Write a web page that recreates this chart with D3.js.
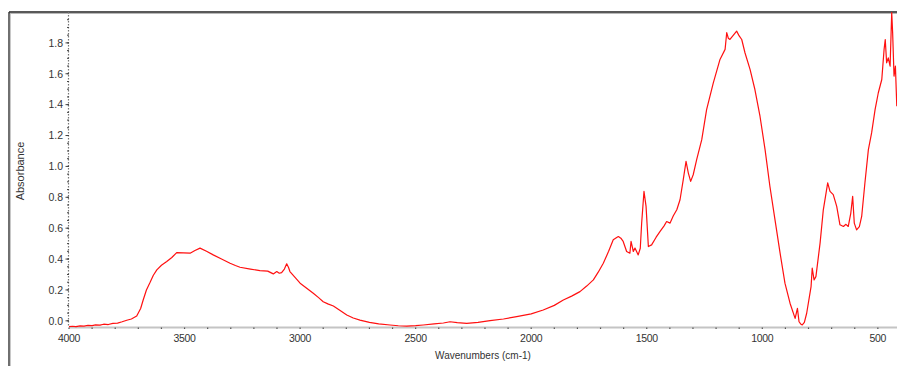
<!DOCTYPE html>
<html>
<head>
<meta charset="utf-8">
<script src="https://cdn.jsdelivr.net/npm/d3@7"></script>
<style>
  html, body { margin: 0; padding: 0; background: #fff; }
  svg { display: block; font-family: "Liberation Sans", Arial, sans-serif; }
</style>
</head>
<body>
<svg id="chart" width="897" height="366"></svg>
<script>
// IR absorbance spectrum: wavenumber (cm-1) and absorbance samples
const wavenumbers = [
  4000, 3985, 3970, 3952, 3935, 3918, 3900, 3885, 3866, 3850, 3830, 3810, 3790, 3770, 3750,
  3730, 3707, 3690, 3679, 3665, 3650, 3635, 3620, 3600, 3577, 3555, 3534, 3505, 3476, 3455,
  3433, 3405, 3376, 3340, 3303, 3280, 3260, 3215, 3174, 3140, 3116, 3101, 3090, 3080, 3068,
  3058, 3050, 3044, 3020, 3000, 2970, 2943, 2920, 2900, 2880, 2856, 2830, 2798, 2770, 2741,
  2700, 2660, 2611, 2575, 2539, 2500, 2467, 2420, 2380, 2351, 2320, 2279, 2230, 2178, 2120,
  2063, 2000, 1948, 1900, 1861, 1825, 1789, 1760, 1731, 1710, 1688, 1665, 1645, 1630, 1623,
  1612, 1602, 1587, 1573, 1568, 1558, 1551, 1537, 1528, 1522, 1512, 1503, 1493, 1479, 1460,
  1443, 1425, 1414, 1399, 1385, 1370, 1356, 1342, 1330, 1320, 1310, 1299, 1284, 1262, 1241,
  1212, 1183, 1161, 1154, 1147, 1140, 1125, 1111, 1100, 1089, 1075, 1053, 1032, 1010, 988,
  967, 945, 923, 902, 880, 858, 848, 841, 834, 827, 818, 808, 789, 784, 776,
  768, 750, 736, 724, 717, 707, 693, 678, 664, 649, 638, 628, 617, 609, 602,
  592, 580, 570, 556, 541, 527, 512, 498, 483, 473, 468, 462, 455, 447, 440,
  436, 430, 424, 418
];
const absorbance = [
  -0.037, -0.035, -0.037, -0.033, -0.034, -0.030, -0.031, -0.026, -0.028, -0.022, -0.024, -0.017, -0.015, -0.006, 0.004,
  0.012, 0.031, 0.080, 0.135, 0.200, 0.246, 0.295, 0.330, 0.360, 0.384, 0.410, 0.442, 0.440, 0.438, 0.455,
  0.471, 0.450, 0.427, 0.400, 0.373, 0.358, 0.347, 0.335, 0.325, 0.322, 0.304, 0.319, 0.308, 0.312, 0.335,
  0.369, 0.345, 0.319, 0.278, 0.244, 0.210, 0.179, 0.150, 0.124, 0.110, 0.096, 0.070, 0.038, 0.018, 0.005,
  -0.010, -0.020, -0.027, -0.032, -0.034, -0.031, -0.027, -0.020, -0.014, -0.006, -0.012, -0.016, -0.010, 0.001, 0.012,
  0.027, 0.045, 0.070, 0.100, 0.135, 0.160, 0.189, 0.225, 0.265, 0.315, 0.373, 0.450, 0.525, 0.540, 0.546,
  0.535, 0.514, 0.449, 0.438, 0.514, 0.449, 0.471, 0.427, 0.470, 0.633, 0.838, 0.741, 0.481, 0.492, 0.540,
  0.578, 0.615, 0.643, 0.633, 0.680, 0.719, 0.784, 0.914, 1.033, 0.957, 0.903, 0.946, 1.044, 1.173, 1.368,
  1.541, 1.693, 1.758, 1.866, 1.830, 1.822, 1.850, 1.876, 1.845, 1.822, 1.736, 1.628, 1.498, 1.325, 1.109,
  0.870, 0.654, 0.438, 0.244, 0.114, 0.016, 0.081, -0.006, -0.020, -0.027, -0.010, 0.049, 0.222, 0.341, 0.265,
  0.286, 0.503, 0.719, 0.828, 0.893, 0.838, 0.817, 0.741, 0.622, 0.611, 0.625, 0.611, 0.698, 0.806, 0.633,
  0.589, 0.610, 0.676, 0.893, 1.109, 1.217, 1.368, 1.477, 1.563, 1.758, 1.822, 1.671, 1.703, 1.649, 1.996,
  1.866, 1.585, 1.649, 1.390
];
const yTickValues = [0.0, 0.2, 0.4, 0.6, 0.8, 1.0, 1.2, 1.4, 1.6, 1.8];
const xTickValues = [4000, 3500, 3000, 2500, 2000, 1500, 1000, 500];
const xTitle = "Wavenumbers (cm-1)";
const yTitle = "Absorbance";

const svg = d3.select("#chart");
const W = 897, H = 366;
const plotLeft = 69, plotTop = 12, plotBottom = 327;

const x = d3.scaleLinear().domain([4000, 400]).range([plotLeft, plotLeft + 3600 * 0.2311]);
const y = d3.scaleLinear().domain([-0.04, 2.0]).range([plotBottom, plotTop]);

// Window frame (top and left border)
svg.append("line").attr("x1", 9).attr("x2", W).attr("y1", plotTop).attr("y2", plotTop)
  .attr("stroke", "#222").attr("stroke-width", 1.6);
svg.append("line").attr("x1", 9).attr("x2", W).attr("y1", plotTop + 1.5).attr("y2", plotTop + 1.5)
  .attr("stroke", "#b8b8b8").attr("stroke-width", 1);
svg.append("line").attr("x1", 9).attr("x2", 9).attr("y1", plotTop).attr("y2", H)
  .attr("stroke", "#333").attr("stroke-width", 1.4);
svg.append("line").attr("x1", 10.5).attr("x2", 10.5).attr("y1", plotTop + 2).attr("y2", H)
  .attr("stroke", "#c8c8c8").attr("stroke-width", 1);

// X axis baseline (light grey bar) with minor ticks every 100 cm-1
svg.append("line").attr("x1", plotLeft).attr("x2", W).attr("y1", plotBottom + 0.5).attr("y2", plotBottom + 0.5)
  .attr("stroke", "#c4c4c4").attr("stroke-width", 2);
const xMinor = d3.range(4000, 399, -100);
svg.append("g").selectAll("line").data(xMinor).join("line")
  .attr("x1", d => x(d)).attr("x2", d => x(d))
  .attr("y1", plotBottom + 0.5).attr("y2", plotBottom + 2)
  .attr("stroke", "#555").attr("stroke-width", 1.2);

// X tick labels
svg.append("g").selectAll("text").data(xTickValues).join("text")
  .attr("x", d => x(d)).attr("y", 341.5)
  .attr("text-anchor", "middle")
  .attr("font-size", "10.5px").attr("fill", "#333")
  .attr("letter-spacing", "-0.3px")
  .text(d => d);

// Y axis: dotted line with minor ticks
svg.append("line").attr("x1", plotLeft - 0.5).attr("x2", plotLeft - 0.5).attr("y1", plotTop).attr("y2", plotBottom)
  .attr("stroke", "#777").attr("stroke-width", 1.2).attr("stroke-dasharray", "1.5,1.5");
const yMinor = d3.range(0, 2.0, 0.05);
svg.append("g").selectAll("line").data(yMinor).join("line")
  .attr("x1", plotLeft - 2).attr("x2", plotLeft)
  .attr("y1", d => y(d)).attr("y2", d => y(d))
  .attr("stroke", "#444").attr("stroke-width", 1);
svg.append("g").selectAll("line").data(yTickValues).join("line")
  .attr("x1", plotLeft - 3.5).attr("x2", plotLeft)
  .attr("y1", d => y(d)).attr("y2", d => y(d))
  .attr("stroke", "#444").attr("stroke-width", 1);

// Y tick labels
svg.append("g").selectAll("text").data(yTickValues).join("text")
  .attr("x", 63).attr("y", d => y(d) + 3.8)
  .attr("text-anchor", "end")
  .attr("font-size", "10.5px").attr("fill", "#333")
  .text(d => d.toFixed(1));

// Axis titles
svg.append("text").attr("x", 483).attr("y", 358.5)
  .attr("text-anchor", "middle").attr("font-size", "10px").attr("fill", "#333")
  .text(xTitle);
svg.append("text")
  .attr("transform", "translate(24,171) rotate(-90)")
  .attr("text-anchor", "middle").attr("font-size", "11px").attr("fill", "#333")
  .text(yTitle);

// Spectrum trace
const pts = wavenumbers.map((w, i) => [w, absorbance[i]]);
svg.append("clipPath").attr("id", "plotClip")
  .append("rect").attr("x", plotLeft).attr("y", plotTop).attr("width", W - plotLeft).attr("height", plotBottom - plotTop + 2);
svg.append("path")
  .datum(pts)
  .attr("clip-path", "url(#plotClip)")
  .attr("fill", "none")
  .attr("stroke", "#ff1010")
  .attr("stroke-width", 1.2)
  .attr("stroke-linejoin", "round")
  .attr("d", d3.line().x(d => x(d[0])).y(d => y(d[1])));
</script>
</body>
</html>
